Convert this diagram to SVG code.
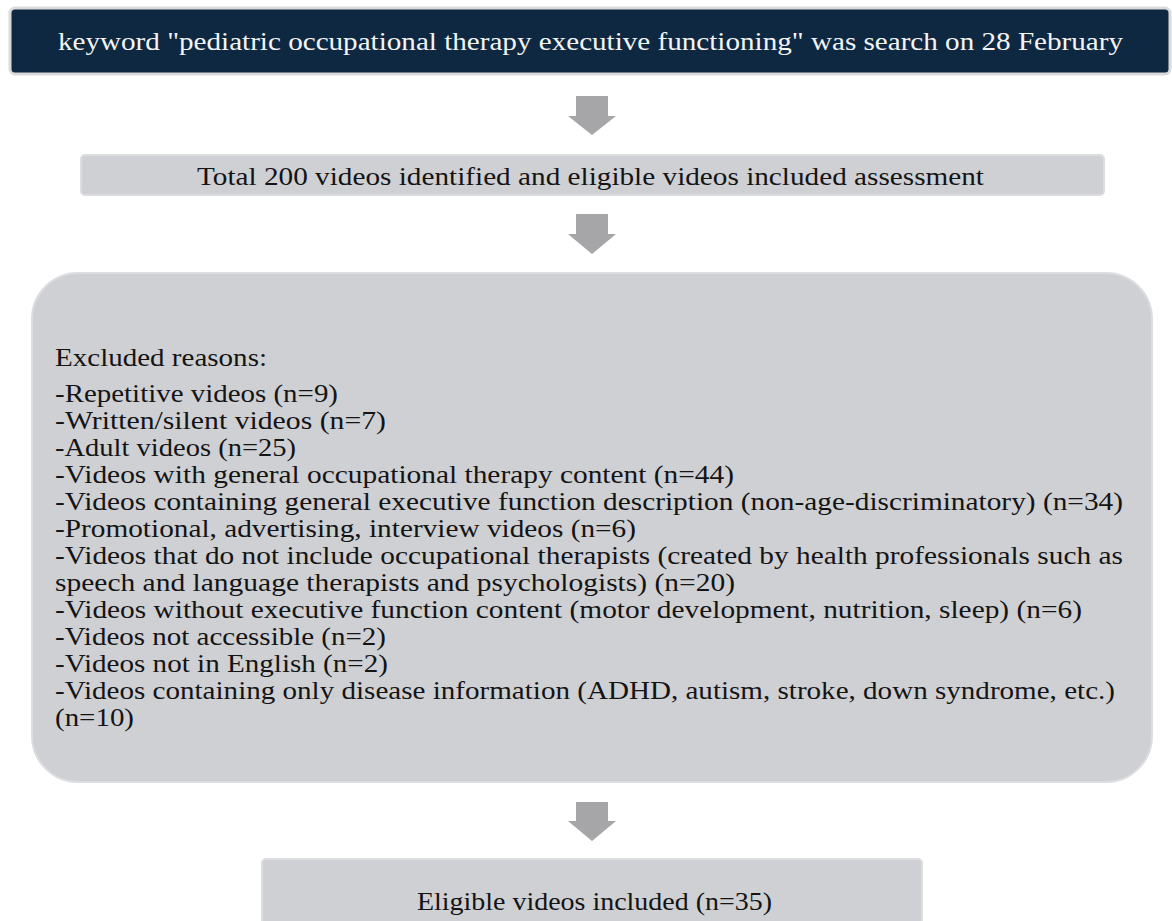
<svg xmlns="http://www.w3.org/2000/svg" width="1172" height="921" viewBox="0 0 1172 921">
<style>
.t{font-family:"Liberation Serif","Times New Roman",serif;font-size:26px;fill:#141414}
.w{fill:#f4f4f4}
.box{fill:#cfd0d4;stroke:#dcdde0;stroke-width:2}
.arr{fill:#a6a6a8}
</style>
<rect width="1172" height="921" fill="#ffffff"/>
<g id="connectors">
<polygon class="arr" points="576,96 608,96 608,116 616,116 592,135 568,116 576,116"/>
<polygon class="arr" points="576,214 608,214 608,234 616,234 592,254 568,234 576,234"/>
<polygon class="arr" points="576,802 608,802 608,821 616,821 592,841 568,821 576,821"/>
</g>
<g id="search">
<rect x="10" y="8" width="1160" height="66" rx="5" fill="#0e2841" stroke="#dadada" stroke-width="3"/>
<text class="t w" x="58" y="50" textLength="1065" lengthAdjust="spacingAndGlyphs">keyword "pediatric occupational therapy executive functioning" was search on 28 February</text>
</g>
<g id="identified">
<rect class="box" x="81" y="155" width="1023" height="40" rx="4"/>
<text class="t" x="197" y="185" textLength="787" lengthAdjust="spacingAndGlyphs">Total 200 videos identified and eligible videos included assessment</text>
</g>
<g id="excluded">
<rect class="box" x="32" y="273" width="1120" height="509" rx="46"/>
<text class="t" x="55" y="366" textLength="212" lengthAdjust="spacingAndGlyphs">Excluded reasons:</text>
<text class="t" x="55" y="402" textLength="283" lengthAdjust="spacingAndGlyphs">-Repetitive videos (n=9)</text>
<text class="t" x="55" y="429" textLength="331" lengthAdjust="spacingAndGlyphs">-Written/silent videos (n=7)</text>
<text class="t" x="55" y="456" textLength="241" lengthAdjust="spacingAndGlyphs">-Adult videos (n=25)</text>
<text class="t" x="55" y="483" textLength="679" lengthAdjust="spacingAndGlyphs">-Videos with general occupational therapy content (n=44)</text>
<text class="t" x="55" y="510" textLength="1068" lengthAdjust="spacingAndGlyphs">-Videos containing general executive function description (non-age-discriminatory) (n=34)</text>
<text class="t" x="55" y="537" textLength="581" lengthAdjust="spacingAndGlyphs">-Promotional, advertising, interview videos (n=6)</text>
<text class="t" x="55" y="564" textLength="1068" lengthAdjust="spacingAndGlyphs">-Videos that do not include occupational therapists (created by health professionals such as</text>
<text class="t" x="55" y="591" textLength="680" lengthAdjust="spacingAndGlyphs">speech and language therapists and psychologists) (n=20)</text>
<text class="t" x="55" y="618" textLength="1027" lengthAdjust="spacingAndGlyphs">-Videos without executive function content (motor development, nutrition, sleep) (n=6)</text>
<text class="t" x="55" y="645" textLength="331" lengthAdjust="spacingAndGlyphs">-Videos not accessible (n=2)</text>
<text class="t" x="55" y="672" textLength="333" lengthAdjust="spacingAndGlyphs">-Videos not in English (n=2)</text>
<text class="t" x="55" y="699" textLength="1060" lengthAdjust="spacingAndGlyphs">-Videos containing only disease information (ADHD, autism, stroke, down syndrome, etc.)</text>
<text class="t" x="55" y="726" textLength="79" lengthAdjust="spacingAndGlyphs">(n=10)</text>
</g>
<g id="included">
<rect class="box" x="262" y="859" width="660" height="70" rx="4"/>
<text class="t" x="417" y="910" textLength="355" lengthAdjust="spacingAndGlyphs">Eligible videos included (n=35)</text>
</g>
</svg>
